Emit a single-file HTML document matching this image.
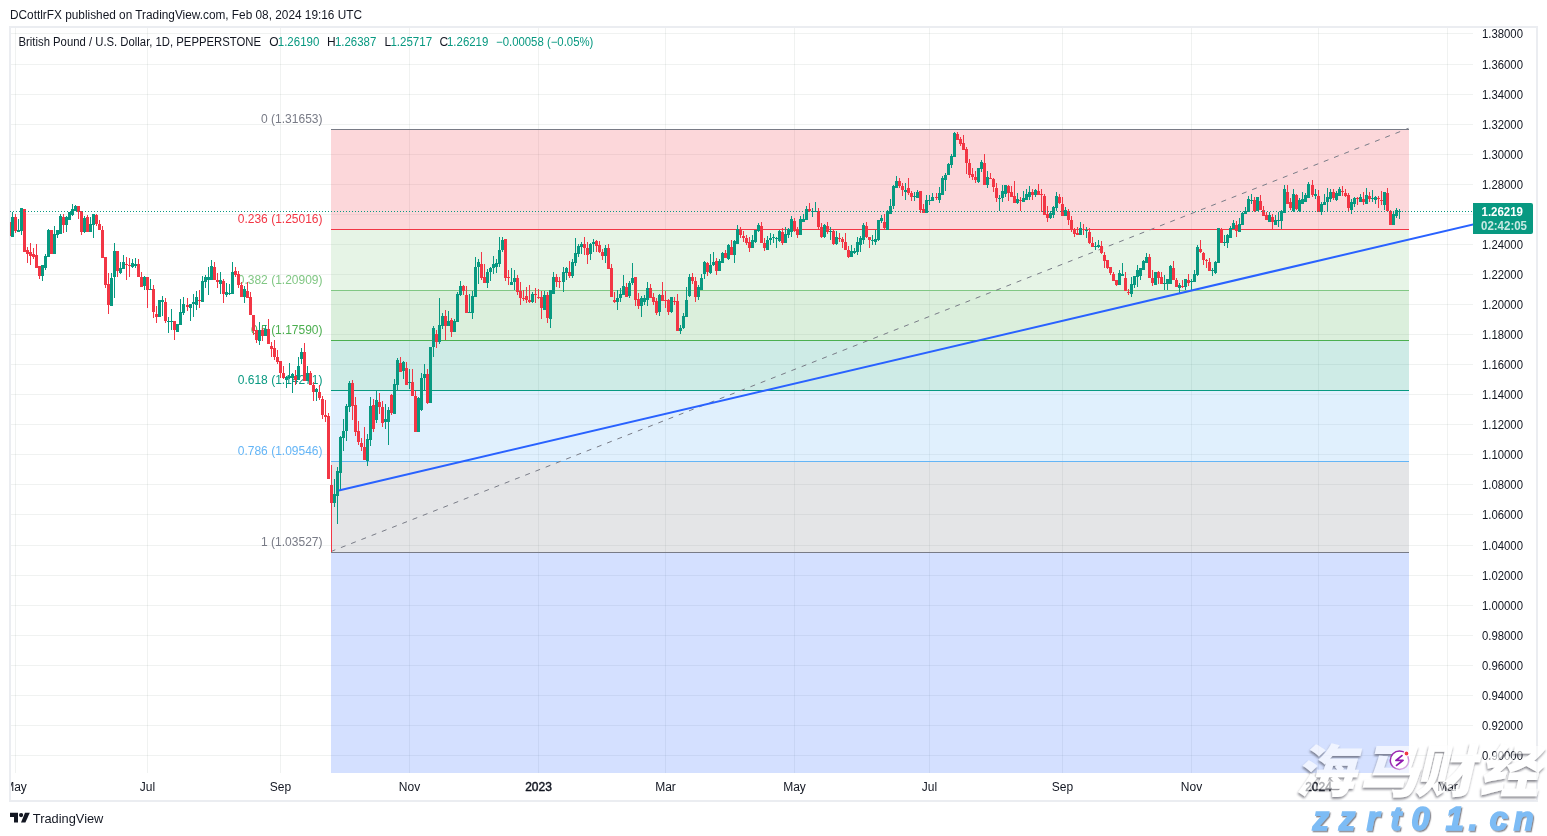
<!DOCTYPE html>
<html><head><meta charset="utf-8"><title>GBPUSD</title>
<style>html,body{margin:0;padding:0;background:#fff;}body{width:1547px;height:836px;position:relative;overflow:hidden;}
</style></head><body>
<svg width="1547" height="836" viewBox="0 0 1547 836" style="position:absolute;left:0;top:0;will-change:transform">
<defs><clipPath id="pane"><rect x="10" y="28" width="1463" height="745"/></clipPath></defs>
<path d="M11,33h1462v1h-1462zM11,64h1462v1h-1462zM11,94h1462v1h-1462zM11,124h1462v1h-1462zM11,154h1462v1h-1462zM11,184h1462v1h-1462zM11,214h1462v1h-1462zM11,244h1462v1h-1462zM11,274h1462v1h-1462zM11,304h1462v1h-1462zM11,334h1462v1h-1462zM11,364h1462v1h-1462zM11,394h1462v1h-1462zM11,424h1462v1h-1462zM11,454h1462v1h-1462zM11,484h1462v1h-1462zM11,514h1462v1h-1462zM11,545h1462v1h-1462zM11,575h1462v1h-1462zM11,605h1462v1h-1462zM11,635h1462v1h-1462zM11,665h1462v1h-1462zM11,695h1462v1h-1462zM11,725h1462v1h-1462zM11,755h1462v1h-1462z" fill="rgba(60,80,70,0.075)" shape-rendering="crispEdges"/>
<path d="M15,28h1v745h-1zM147,28h1v745h-1zM280,28h1v745h-1zM409,28h1v745h-1zM538,28h1v745h-1zM665,28h1v745h-1zM794,28h1v745h-1zM929,28h1v745h-1zM1062,28h1v745h-1zM1191,28h1v745h-1zM1318,28h1v745h-1zM1447,28h1v745h-1z" fill="rgba(60,80,70,0.075)" shape-rendering="crispEdges"/>
<rect x="10" y="27" width="1527" height="774" fill="none" stroke="#ebedf1" stroke-width="2"/>
<g shape-rendering="crispEdges">
<rect x="331" y="130" width="1078" height="99" fill="rgba(242,54,69,0.2)"/>
<rect x="331" y="230" width="1078" height="60" fill="rgba(129,199,132,0.2)"/>
<rect x="331" y="291" width="1078" height="49" fill="rgba(76,175,80,0.2)"/>
<rect x="331" y="341" width="1078" height="49" fill="rgba(8,153,129,0.2)"/>
<rect x="331" y="391" width="1078" height="70" fill="rgba(100,181,246,0.2)"/>
<rect x="331" y="462" width="1078" height="90" fill="rgba(120,123,134,0.2)"/>
<rect x="331" y="553" width="1078" height="220" fill="rgba(41,98,255,0.2)"/>
<rect x="331" y="129" width="1078" height="1" fill="#787b86"/>
<rect x="331" y="229" width="1078" height="1" fill="#f23645"/>
<rect x="331" y="290" width="1078" height="1" fill="#81c784"/>
<rect x="331" y="340" width="1078" height="1" fill="#4caf50"/>
<rect x="331" y="390" width="1078" height="1" fill="#089981"/>
<rect x="331" y="461" width="1078" height="1" fill="#64b5f6"/>
<rect x="331" y="552" width="1078" height="1" fill="#787b86"/>
</g>
<g font-family="Liberation Sans, Arial, sans-serif" font-size="12" text-anchor="end">
<text x="322.5" y="122.5" fill="#787b86">0 (1.31653)</text>
<text x="322.5" y="222.5" fill="#f23645">0.236 (1.25016)</text>
<text x="322.5" y="283.5" fill="#81c784">0.382 (1.20909)</text>
<text x="322.5" y="333.5" fill="#4caf50">0.5 (1.17590)</text>
<text x="322.5" y="383.5" fill="#089981">0.618 (1.14271)</text>
<text x="322.5" y="454.5" fill="#64b5f6">0.786 (1.09546)</text>
<text x="322.5" y="545.5" fill="#787b86">1 (1.03527)</text>
</g>
<line x1="331.5" y1="551.3" x2="1408.5" y2="128.3" stroke="#787b86" stroke-width="1" stroke-dasharray="5 6" stroke-dashoffset="0.9"/>
<g clip-path="url(#pane)" shape-rendering="crispEdges">
<path fill="#089981" d="M12,212h1v25h-1zM18,219h1v13h-1zM21,208h1v27h-1zM42,265h1v16h-1zM45,254h1v16h-1zM48,229h1v28h-1zM54,226h1v28h-1zM57,230h1v8h-1zM60,214h1v20h-1zM66,216h1v16h-1zM69,212h1v8h-1zM72,204h1v12h-1zM75,205h1v6h-1zM84,216h1v17h-1zM90,217h1v15h-1zM93,214h1v24h-1zM111,273h1v33h-1zM114,243h1v55h-1zM120,262h1v12h-1zM123,255h1v14h-1zM132,259h1v9h-1zM135,258h1v10h-1zM144,276h1v14h-1zM150,279h1v11h-1zM159,300h1v17h-1zM162,296h1v20h-1zM168,317h1v16h-1zM171,309h1v21h-1zM177,324h1v8h-1zM180,299h1v26h-1zM183,297h1v18h-1zM190,304h1v17h-1zM193,294h1v23h-1zM196,291h1v19h-1zM202,276h1v26h-1zM205,275h1v13h-1zM208,267h1v28h-1zM211,260h1v20h-1zM220,272h1v22h-1zM226,283h1v14h-1zM229,284h1v11h-1zM232,262h1v32h-1zM244,286h1v17h-1zM259,322h1v23h-1zM265,325h1v11h-1zM286,376h1v12h-1zM289,363h1v16h-1zM292,373h1v20h-1zM298,357h1v23h-1zM301,348h1v16h-1zM307,366h1v15h-1zM316,388h1v13h-1zM334,479h1v28h-1zM337,467h1v57h-1zM340,436h1v54h-1zM343,419h1v32h-1zM346,404h1v37h-1zM349,381h1v31h-1zM367,434h1v32h-1zM370,397h1v49h-1zM376,391h1v32h-1zM385,404h1v25h-1zM388,407h1v38h-1zM394,379h1v35h-1zM397,358h1v32h-1zM403,361h1v18h-1zM409,369h1v20h-1zM418,397h1v35h-1zM421,373h1v38h-1zM424,364h1v26h-1zM430,347h1v56h-1zM433,326h1v31h-1zM439,298h1v46h-1zM442,313h1v16h-1zM448,311h1v15h-1zM454,319h1v13h-1zM457,292h1v30h-1zM460,281h1v15h-1zM469,294h1v19h-1zM472,291h1v28h-1zM475,257h1v40h-1zM478,259h1v25h-1zM487,269h1v19h-1zM490,267h1v14h-1zM493,256h1v18h-1zM496,259h1v14h-1zM499,237h1v30h-1zM502,237h1v15h-1zM511,268h1v17h-1zM514,270h1v20h-1zM532,292h1v11h-1zM544,291h1v19h-1zM550,290h1v38h-1zM553,272h1v22h-1zM563,267h1v25h-1zM566,267h1v13h-1zM572,259h1v19h-1zM575,238h1v28h-1zM578,244h1v13h-1zM581,242h1v12h-1zM590,243h1v17h-1zM593,239h1v13h-1zM605,245h1v18h-1zM617,290h1v20h-1zM620,288h1v14h-1zM623,275h1v20h-1zM629,281h1v17h-1zM632,263h1v22h-1zM641,296h1v21h-1zM644,295h1v10h-1zM647,282h1v24h-1zM659,294h1v22h-1zM671,297h1v16h-1zM680,325h1v9h-1zM683,313h1v16h-1zM686,287h1v30h-1zM689,274h1v23h-1zM698,285h1v15h-1zM701,274h1v16h-1zM704,261h1v18h-1zM710,254h1v20h-1zM713,252h1v14h-1zM719,259h1v12h-1zM722,252h1v11h-1zM728,244h1v16h-1zM734,240h1v23h-1zM737,225h1v19h-1zM752,235h1v13h-1zM755,230h1v13h-1zM758,223h1v9h-1zM767,236h1v14h-1zM770,233h1v12h-1zM773,234h1v9h-1zM776,237h1v11h-1zM779,230h1v12h-1zM785,227h1v16h-1zM788,228h1v10h-1zM791,216h1v21h-1zM800,216h1v19h-1zM803,214h1v8h-1zM806,206h1v14h-1zM812,208h1v9h-1zM815,202h1v10h-1zM824,224h1v14h-1zM830,227h1v13h-1zM836,231h1v14h-1zM851,245h1v12h-1zM854,248h1v6h-1zM857,237h1v18h-1zM860,236h1v16h-1zM863,223h1v21h-1zM872,235h1v10h-1zM875,230h1v15h-1zM878,220h1v21h-1zM881,215h1v8h-1zM887,210h1v20h-1zM890,199h1v15h-1zM893,185h1v24h-1zM896,176h1v12h-1zM905,183h1v17h-1zM914,192h1v9h-1zM917,190h1v8h-1zM926,195h1v18h-1zM929,195h1v10h-1zM932,193h1v8h-1zM939,187h1v16h-1zM942,176h1v19h-1zM945,173h1v18h-1zM948,163h1v12h-1zM951,154h1v14h-1zM954,132h1v25h-1zM978,168h1v15h-1zM981,160h1v12h-1zM987,171h1v17h-1zM999,195h1v16h-1zM1002,185h1v17h-1zM1005,185h1v12h-1zM1017,193h1v11h-1zM1023,191h1v11h-1zM1026,189h1v11h-1zM1029,186h1v14h-1zM1035,189h1v8h-1zM1050,211h1v8h-1zM1053,206h1v12h-1zM1056,192h1v19h-1zM1065,207h1v9h-1zM1080,222h1v13h-1zM1086,227h1v11h-1zM1095,242h1v8h-1zM1098,240h1v8h-1zM1119,270h1v15h-1zM1122,263h1v13h-1zM1131,277h1v20h-1zM1134,276h1v12h-1zM1137,265h1v22h-1zM1140,268h1v12h-1zM1143,260h1v10h-1zM1146,253h1v10h-1zM1155,272h1v13h-1zM1164,275h1v15h-1zM1167,279h1v11h-1zM1170,265h1v19h-1zM1179,283h1v10h-1zM1185,279h1v11h-1zM1191,279h1v11h-1zM1194,270h1v12h-1zM1197,245h1v31h-1zM1212,268h1v8h-1zM1215,261h1v13h-1zM1218,228h1v35h-1zM1224,235h1v11h-1zM1227,234h1v14h-1zM1230,226h1v12h-1zM1233,220h1v9h-1zM1239,218h1v14h-1zM1242,212h1v13h-1zM1245,207h1v7h-1zM1248,196h1v16h-1zM1251,194h1v10h-1zM1257,197h1v14h-1zM1269,212h1v10h-1zM1275,215h1v10h-1zM1278,212h1v15h-1zM1281,210h1v19h-1zM1284,185h1v28h-1zM1293,189h1v23h-1zM1299,198h1v14h-1zM1302,192h1v12h-1zM1305,193h1v9h-1zM1308,182h1v16h-1zM1315,189h1v10h-1zM1321,202h1v13h-1zM1324,194h1v11h-1zM1327,188h1v24h-1zM1330,189h1v13h-1zM1336,191h1v10h-1zM1339,187h1v9h-1zM1351,199h1v15h-1zM1354,197h1v10h-1zM1360,194h1v8h-1zM1366,188h1v16h-1zM1372,190h1v12h-1zM1375,196h1v8h-1zM1384,192h1v18h-1zM1393,211h1v14h-1zM1396,208h1v10h-1zM1399,209h1v10h-1zM11,217h3v20h-3zM17,230h3v2h-3zM20,208h3v23h-3zM41,265h3v11h-3zM44,256h3v12h-3zM47,230h3v27h-3zM53,234h3v20h-3zM56,230h3v5h-3zM59,216h3v18h-3zM65,217h3v8h-3zM68,212h3v8h-3zM71,209h3v6h-3zM74,206h3v5h-3zM83,218h3v14h-3zM89,224h3v8h-3zM92,214h3v11h-3zM110,278h3v28h-3zM113,251h3v26h-3zM119,268h3v5h-3zM122,262h3v7h-3zM131,263h3v4h-3zM134,264h3v2h-3zM143,277h3v9h-3zM149,289h3v1h-3zM158,300h3v17h-3zM161,300h3v2h-3zM167,321h3v1h-3zM170,321h3v1h-3zM176,324h3v8h-3zM179,312h3v13h-3zM182,304h3v9h-3zM189,304h3v4h-3zM192,302h3v2h-3zM195,297h3v8h-3zM201,281h3v21h-3zM204,277h3v5h-3zM207,277h3v3h-3zM210,266h3v14h-3zM219,280h3v4h-3zM225,292h3v3h-3zM228,293h3v1h-3zM231,272h3v22h-3zM243,289h3v8h-3zM258,330h3v11h-3zM264,329h3v7h-3zM285,377h3v3h-3zM288,376h3v2h-3zM291,374h3v4h-3zM297,366h3v14h-3zM300,352h3v7h-3zM306,373h3v8h-3zM315,389h3v3h-3zM333,494h3v9h-3zM336,471h3v25h-3zM339,437h3v36h-3zM342,431h3v7h-3zM345,406h3v25h-3zM348,383h3v24h-3zM366,439h3v22h-3zM369,406h3v34h-3zM375,400h3v20h-3zM384,419h3v3h-3zM387,410h3v12h-3zM393,384h3v30h-3zM396,360h3v25h-3zM402,362h3v9h-3zM408,382h3v1h-3zM417,398h3v34h-3zM420,378h3v32h-3zM423,374h3v4h-3zM429,347h3v56h-3zM432,328h3v19h-3zM438,325h3v17h-3zM441,316h3v10h-3zM447,321h3v5h-3zM453,321h3v11h-3zM456,294h3v28h-3zM459,286h3v9h-3zM468,312h3v1h-3zM471,296h3v17h-3zM474,267h3v30h-3zM477,262h3v5h-3zM486,272h3v11h-3zM489,268h3v4h-3zM492,264h3v4h-3zM495,263h3v4h-3zM498,250h3v14h-3zM501,240h3v10h-3zM510,282h3v3h-3zM513,278h3v4h-3zM531,294h3v8h-3zM543,295h3v15h-3zM549,290h3v29h-3zM552,277h3v17h-3zM562,272h3v10h-3zM565,268h3v5h-3zM571,262h3v14h-3zM574,253h3v10h-3zM577,246h3v8h-3zM580,244h3v3h-3zM589,244h3v10h-3zM592,242h3v2h-3zM604,248h3v8h-3zM616,298h3v4h-3zM619,294h3v4h-3zM622,286h3v9h-3zM628,283h3v13h-3zM631,278h3v5h-3zM640,298h3v8h-3zM643,298h3v4h-3zM646,288h3v12h-3zM658,295h3v17h-3zM670,297h3v15h-3zM679,328h3v3h-3zM682,316h3v12h-3zM685,300h3v17h-3zM688,277h3v19h-3zM697,287h3v10h-3zM700,278h3v12h-3zM703,262h3v12h-3zM709,265h3v8h-3zM712,262h3v3h-3zM718,261h3v10h-3zM721,253h3v10h-3zM727,245h3v14h-3zM733,241h3v14h-3zM736,229h3v15h-3zM751,240h3v8h-3zM754,230h3v12h-3zM757,225h3v6h-3zM766,240h3v10h-3zM769,238h3v2h-3zM772,237h3v1h-3zM775,238h3v1h-3zM778,231h3v10h-3zM784,234h3v9h-3zM787,229h3v6h-3zM790,219h3v13h-3zM799,219h3v16h-3zM802,219h3v3h-3zM805,209h3v11h-3zM811,211h3v1h-3zM814,211h3v1h-3zM823,225h3v12h-3zM829,231h3v1h-3zM835,237h3v7h-3zM850,251h3v6h-3zM853,251h3v2h-3zM856,242h3v10h-3zM859,238h3v7h-3zM862,225h3v15h-3zM871,240h3v1h-3zM874,239h3v3h-3zM877,220h3v20h-3zM880,218h3v3h-3zM886,211h3v19h-3zM889,206h3v8h-3zM892,186h3v20h-3zM895,181h3v7h-3zM904,190h3v2h-3zM913,196h3v1h-3zM916,192h3v6h-3zM925,200h3v13h-3zM928,200h3v1h-3zM931,197h3v4h-3zM938,193h3v7h-3zM941,178h3v17h-3zM944,175h3v5h-3zM947,164h3v11h-3zM950,156h3v9h-3zM953,133h3v24h-3zM977,168h3v14h-3zM980,162h3v7h-3zM986,177h3v8h-3zM998,198h3v1h-3zM1001,191h3v7h-3zM1004,185h3v9h-3zM1016,199h3v4h-3zM1022,198h3v4h-3zM1025,194h3v6h-3zM1028,192h3v5h-3zM1034,190h3v5h-3zM1049,213h3v5h-3zM1052,207h3v8h-3zM1055,196h3v12h-3zM1064,210h3v6h-3zM1079,228h3v7h-3zM1085,230h3v1h-3zM1094,246h3v1h-3zM1097,245h3v2h-3zM1118,273h3v12h-3zM1121,274h3v2h-3zM1130,284h3v10h-3zM1133,276h3v9h-3zM1136,270h3v7h-3zM1139,268h3v8h-3zM1142,261h3v9h-3zM1145,257h3v6h-3zM1154,272h3v13h-3zM1163,283h3v1h-3zM1166,279h3v5h-3zM1169,266h3v18h-3zM1178,285h3v3h-3zM1184,279h3v8h-3zM1190,281h3v1h-3zM1193,274h3v8h-3zM1196,247h3v28h-3zM1211,270h3v1h-3zM1214,262h3v11h-3zM1217,228h3v35h-3zM1223,242h3v1h-3zM1226,235h3v8h-3zM1229,228h3v10h-3zM1232,223h3v6h-3zM1238,224h3v8h-3zM1241,213h3v12h-3zM1244,211h3v3h-3zM1247,199h3v13h-3zM1250,200h3v1h-3zM1256,197h3v14h-3zM1268,215h3v7h-3zM1274,220h3v5h-3zM1277,220h3v1h-3zM1280,211h3v10h-3zM1283,189h3v24h-3zM1292,194h3v17h-3zM1298,200h3v11h-3zM1301,199h3v5h-3zM1304,195h3v7h-3zM1307,184h3v14h-3zM1314,194h3v2h-3zM1320,204h3v8h-3zM1323,202h3v3h-3zM1326,197h3v5h-3zM1329,192h3v7h-3zM1335,193h3v7h-3zM1338,189h3v7h-3zM1350,202h3v8h-3zM1353,198h3v6h-3zM1359,197h3v5h-3zM1365,195h3v9h-3zM1371,198h3v1h-3zM1374,197h3v3h-3zM1383,192h3v13h-3zM1392,214h3v11h-3zM1395,210h3v6h-3zM1398,211h3v1h-3z"/>
<path fill="#f23645" d="M9,222h1v14h-1zM15,214h1v19h-1zM24,209h1v43h-1zM27,247h1v16h-1zM30,243h1v22h-1zM33,248h1v11h-1zM36,244h1v24h-1zM39,266h1v13h-1zM51,230h1v24h-1zM63,214h1v19h-1zM78,206h1v13h-1zM81,211h1v24h-1zM87,215h1v17h-1zM96,214h1v12h-1zM99,220h1v10h-1zM102,226h1v32h-1zM105,257h1v31h-1zM108,273h1v41h-1zM117,251h1v26h-1zM126,257h1v23h-1zM129,258h1v19h-1zM138,259h1v18h-1zM141,272h1v15h-1zM147,277h1v31h-1zM153,285h1v33h-1zM156,306h1v17h-1zM165,298h1v25h-1zM174,321h1v19h-1zM187,298h1v13h-1zM199,290h1v18h-1zM214,262h1v18h-1zM217,273h1v15h-1zM223,279h1v24h-1zM235,267h1v10h-1zM238,271h1v17h-1zM241,282h1v15h-1zM247,282h1v16h-1zM250,292h1v23h-1zM253,315h1v20h-1zM256,330h1v13h-1zM262,328h1v13h-1zM268,319h1v25h-1zM271,342h1v15h-1zM274,340h1v20h-1zM277,350h1v14h-1zM280,361h1v17h-1zM283,366h1v13h-1zM295,370h1v15h-1zM304,343h1v38h-1zM310,371h1v14h-1zM313,382h1v19h-1zM319,385h1v15h-1zM322,396h1v23h-1zM325,400h1v22h-1zM328,413h1v66h-1zM331,465h1v87h-1zM352,380h1v40h-1zM355,397h1v39h-1zM358,421h1v24h-1zM361,438h1v13h-1zM364,427h1v33h-1zM373,399h1v33h-1zM379,393h1v21h-1zM382,401h1v26h-1zM391,394h1v21h-1zM400,357h1v15h-1zM406,362h1v23h-1zM412,369h1v27h-1zM415,391h1v41h-1zM427,369h1v35h-1zM436,330h1v18h-1zM445,310h1v30h-1zM451,318h1v19h-1zM463,285h1v10h-1zM466,286h1v27h-1zM481,252h1v28h-1zM484,264h1v19h-1zM505,239h1v42h-1zM508,270h1v15h-1zM517,275h1v20h-1zM520,282h1v23h-1zM523,290h1v11h-1zM526,287h1v16h-1zM529,285h1v18h-1zM535,288h1v15h-1zM538,289h1v10h-1zM541,291h1v28h-1zM547,292h1v31h-1zM556,274h1v13h-1zM559,277h1v11h-1zM569,261h1v17h-1zM584,237h1v18h-1zM587,242h1v22h-1zM596,240h1v12h-1zM599,241h1v12h-1zM602,249h1v11h-1zM608,244h1v25h-1zM611,264h1v33h-1zM614,292h1v11h-1zM626,283h1v14h-1zM635,277h1v29h-1zM638,293h1v16h-1zM650,284h1v14h-1zM653,293h1v12h-1zM656,298h1v17h-1zM662,282h1v19h-1zM665,291h1v17h-1zM668,299h1v16h-1zM674,297h1v8h-1zM677,294h1v37h-1zM692,273h1v11h-1zM695,277h1v25h-1zM707,262h1v14h-1zM716,258h1v17h-1zM725,250h1v8h-1zM731,240h1v15h-1zM740,227h1v11h-1zM743,231h1v11h-1zM746,235h1v10h-1zM749,237h1v15h-1zM761,222h1v21h-1zM764,238h1v13h-1zM782,228h1v17h-1zM794,218h1v14h-1zM797,227h1v11h-1zM809,203h1v9h-1zM818,208h1v21h-1zM821,223h1v15h-1zM827,222h1v12h-1zM833,230h1v15h-1zM839,233h1v9h-1zM842,237h1v11h-1zM845,233h1v17h-1zM848,246h1v12h-1zM866,222h1v16h-1zM869,237h1v11h-1zM884,214h1v16h-1zM899,178h1v10h-1zM902,183h1v13h-1zM908,178h1v17h-1zM911,191h1v10h-1zM920,191h1v22h-1zM923,204h1v9h-1zM936,193h1v7h-1zM957,132h1v8h-1zM960,137h1v9h-1zM963,135h1v15h-1zM966,147h1v27h-1zM969,159h1v19h-1zM972,168h1v12h-1zM975,171h1v12h-1zM984,154h1v31h-1zM990,173h1v6h-1zM993,178h1v14h-1zM996,183h1v19h-1zM1008,185h1v16h-1zM1011,186h1v11h-1zM1014,181h1v22h-1zM1020,197h1v14h-1zM1032,189h1v11h-1zM1038,184h1v11h-1zM1041,189h1v23h-1zM1044,194h1v21h-1zM1047,206h1v16h-1zM1059,194h1v10h-1zM1062,197h1v19h-1zM1068,209h1v16h-1zM1071,216h1v16h-1zM1074,228h1v9h-1zM1077,227h1v8h-1zM1083,224h1v11h-1zM1089,228h1v16h-1zM1092,237h1v10h-1zM1101,241h1v13h-1zM1104,252h1v16h-1zM1107,260h1v9h-1zM1110,267h1v8h-1zM1113,272h1v9h-1zM1116,280h1v6h-1zM1125,272h1v19h-1zM1128,289h1v6h-1zM1149,254h1v24h-1zM1152,270h1v16h-1zM1158,271h1v13h-1zM1161,272h1v12h-1zM1173,261h1v19h-1zM1176,278h1v9h-1zM1182,280h1v8h-1zM1188,274h1v12h-1zM1200,240h1v13h-1zM1203,252h1v13h-1zM1206,259h1v9h-1zM1209,258h1v13h-1zM1221,228h1v15h-1zM1236,221h1v16h-1zM1254,197h1v15h-1zM1260,195h1v15h-1zM1263,206h1v10h-1zM1266,212h1v8h-1zM1272,214h1v15h-1zM1287,185h1v19h-1zM1290,198h1v12h-1zM1296,194h1v16h-1zM1312,180h1v17h-1zM1318,190h1v22h-1zM1333,189h1v11h-1zM1342,186h1v10h-1zM1345,189h1v8h-1zM1348,193h1v18h-1zM1357,197h1v8h-1zM1363,192h1v13h-1zM1369,192h1v10h-1zM1378,196h1v12h-1zM1381,191h1v14h-1zM1387,188h1v23h-1zM1390,210h1v15h-1zM8,222h3v14h-3zM14,217h3v14h-3zM23,209h3v43h-3zM26,250h3v4h-3zM29,252h3v4h-3zM32,254h3v3h-3zM35,255h3v13h-3zM38,266h3v10h-3zM50,230h3v24h-3zM62,217h3v8h-3zM77,206h3v6h-3zM80,211h3v21h-3zM86,217h3v15h-3zM95,215h3v9h-3zM98,224h3v6h-3zM101,230h3v28h-3zM104,257h3v28h-3zM107,284h3v21h-3zM116,251h3v20h-3zM125,264h3v1h-3zM128,265h3v1h-3zM137,264h3v13h-3zM140,277h3v10h-3zM146,277h3v13h-3zM152,289h3v23h-3zM155,314h3v3h-3zM164,302h3v19h-3zM173,321h3v9h-3zM186,305h3v2h-3zM198,300h3v1h-3zM213,267h3v13h-3zM216,280h3v2h-3zM222,281h3v13h-3zM234,271h3v4h-3zM237,274h3v11h-3zM240,285h3v12h-3zM246,291h3v7h-3zM249,297h3v18h-3zM252,315h3v16h-3zM255,330h3v10h-3zM261,330h3v6h-3zM267,329h3v15h-3zM270,346h3v3h-3zM273,348h3v9h-3zM276,357h3v5h-3zM279,361h3v12h-3zM282,373h3v5h-3zM294,376h3v4h-3zM303,352h3v29h-3zM309,373h3v12h-3zM312,385h3v7h-3zM318,392h3v6h-3zM321,399h3v16h-3zM324,415h3v2h-3zM327,416h3v63h-3zM330,485h3v18h-3zM351,383h3v23h-3zM354,405h3v27h-3zM357,431h3v11h-3zM360,443h3v4h-3zM363,447h3v13h-3zM372,405h3v24h-3zM378,402h3v5h-3zM381,407h3v16h-3zM390,395h3v18h-3zM399,363h3v9h-3zM405,368h3v17h-3zM411,382h3v14h-3zM414,396h3v36h-3zM426,374h3v29h-3zM435,334h3v8h-3zM444,316h3v10h-3zM450,320h3v12h-3zM462,286h3v5h-3zM465,295h3v18h-3zM480,264h3v14h-3zM483,277h3v6h-3zM504,239h3v39h-3zM507,277h3v1h-3zM516,278h3v14h-3zM519,291h3v7h-3zM522,298h3v1h-3zM525,296h3v4h-3zM528,300h3v2h-3zM534,294h3v1h-3zM537,297h3v1h-3zM540,297h3v11h-3zM546,295h3v23h-3zM555,277h3v5h-3zM558,281h3v1h-3zM568,272h3v4h-3zM583,244h3v4h-3zM586,248h3v7h-3zM595,241h3v5h-3zM598,245h3v7h-3zM601,252h3v4h-3zM607,248h3v21h-3zM610,268h3v29h-3zM613,300h3v2h-3zM625,287h3v10h-3zM634,277h3v23h-3zM637,299h3v7h-3zM649,288h3v10h-3zM652,297h3v5h-3zM655,301h3v12h-3zM661,295h3v6h-3zM664,300h3v1h-3zM667,300h3v12h-3zM673,301h3v1h-3zM676,301h3v30h-3zM691,277h3v4h-3zM694,281h3v16h-3zM706,263h3v9h-3zM715,261h3v10h-3zM724,253h3v5h-3zM730,247h3v8h-3zM739,229h3v6h-3zM742,236h3v2h-3zM745,238h3v5h-3zM748,242h3v6h-3zM760,226h3v17h-3zM763,243h3v5h-3zM781,232h3v11h-3zM793,221h3v10h-3zM796,230h3v5h-3zM808,209h3v2h-3zM817,211h3v16h-3zM820,227h3v10h-3zM826,226h3v6h-3zM832,231h3v13h-3zM838,238h3v1h-3zM841,239h3v3h-3zM844,242h3v8h-3zM847,250h3v7h-3zM865,226h3v11h-3zM868,237h3v3h-3zM883,222h3v6h-3zM898,181h3v5h-3zM901,186h3v4h-3zM907,188h3v5h-3zM910,193h3v4h-3zM919,191h3v19h-3zM922,209h3v4h-3zM935,197h3v1h-3zM956,134h3v6h-3zM959,139h3v5h-3zM962,143h3v7h-3zM965,149h3v14h-3zM968,163h3v12h-3zM971,174h3v3h-3zM974,177h3v3h-3zM983,163h3v22h-3zM989,178h3v1h-3zM992,179h3v8h-3zM995,188h3v10h-3zM1007,186h3v7h-3zM1010,192h3v5h-3zM1013,196h3v7h-3zM1019,200h3v1h-3zM1031,192h3v3h-3zM1037,191h3v4h-3zM1040,194h3v1h-3zM1043,196h3v19h-3zM1046,214h3v4h-3zM1058,197h3v6h-3zM1061,204h3v12h-3zM1067,211h3v9h-3zM1070,220h3v10h-3zM1073,230h3v4h-3zM1076,233h3v2h-3zM1082,229h3v1h-3zM1088,232h3v11h-3zM1091,243h3v4h-3zM1100,246h3v7h-3zM1103,255h3v6h-3zM1106,260h3v8h-3zM1109,267h3v6h-3zM1112,274h3v7h-3zM1115,280h3v5h-3zM1124,278h3v13h-3zM1127,292h3v1h-3zM1148,257h3v21h-3zM1151,278h3v5h-3zM1157,272h3v6h-3zM1160,277h3v7h-3zM1172,268h3v12h-3zM1175,280h3v7h-3zM1181,286h3v1h-3zM1187,280h3v3h-3zM1199,249h3v3h-3zM1202,253h3v7h-3zM1205,260h3v1h-3zM1208,262h3v9h-3zM1220,230h3v13h-3zM1235,225h3v6h-3zM1253,200h3v11h-3zM1259,201h3v9h-3zM1262,210h3v6h-3zM1265,215h3v5h-3zM1271,217h3v5h-3zM1286,192h3v12h-3zM1289,202h3v6h-3zM1295,195h3v14h-3zM1311,185h3v10h-3zM1317,196h3v16h-3zM1332,192h3v6h-3zM1341,191h3v1h-3zM1344,193h3v3h-3zM1347,195h3v13h-3zM1356,198h3v1h-3zM1362,199h3v3h-3zM1368,196h3v3h-3zM1377,198h3v1h-3zM1380,200h3v1h-3zM1386,193h3v18h-3zM1389,211h3v14h-3z"/>
</g>
<line x1="10" y1="211.5" x2="1473" y2="211.5" stroke="#089981" stroke-width="1" stroke-dasharray="1 2" shape-rendering="crispEdges"/>
<g clip-path="url(#pane)"><line x1="338.7" y1="490.5" x2="1478" y2="223.33" stroke="#2962ff" stroke-width="2"/></g>
<g font-family="Liberation Sans, Arial, sans-serif" font-size="12" fill="#131722">
<text x="1482" y="37.8" textLength="41" lengthAdjust="spacingAndGlyphs">1.38000</text>
<text x="1482" y="68.8" textLength="41" lengthAdjust="spacingAndGlyphs">1.36000</text>
<text x="1482" y="98.8" textLength="41" lengthAdjust="spacingAndGlyphs">1.34000</text>
<text x="1482" y="128.8" textLength="41" lengthAdjust="spacingAndGlyphs">1.32000</text>
<text x="1482" y="158.8" textLength="41" lengthAdjust="spacingAndGlyphs">1.30000</text>
<text x="1482" y="188.8" textLength="41" lengthAdjust="spacingAndGlyphs">1.28000</text>
<text x="1482" y="248.8" textLength="41" lengthAdjust="spacingAndGlyphs">1.24000</text>
<text x="1482" y="278.8" textLength="41" lengthAdjust="spacingAndGlyphs">1.22000</text>
<text x="1482" y="308.8" textLength="41" lengthAdjust="spacingAndGlyphs">1.20000</text>
<text x="1482" y="338.8" textLength="41" lengthAdjust="spacingAndGlyphs">1.18000</text>
<text x="1482" y="368.8" textLength="41" lengthAdjust="spacingAndGlyphs">1.16000</text>
<text x="1482" y="398.8" textLength="41" lengthAdjust="spacingAndGlyphs">1.14000</text>
<text x="1482" y="428.8" textLength="41" lengthAdjust="spacingAndGlyphs">1.12000</text>
<text x="1482" y="458.8" textLength="41" lengthAdjust="spacingAndGlyphs">1.10000</text>
<text x="1482" y="488.8" textLength="41" lengthAdjust="spacingAndGlyphs">1.08000</text>
<text x="1482" y="518.8" textLength="41" lengthAdjust="spacingAndGlyphs">1.06000</text>
<text x="1482" y="549.8" textLength="41" lengthAdjust="spacingAndGlyphs">1.04000</text>
<text x="1482" y="579.8" textLength="41" lengthAdjust="spacingAndGlyphs">1.02000</text>
<text x="1482" y="609.8" textLength="41" lengthAdjust="spacingAndGlyphs">1.00000</text>
<text x="1482" y="639.8" textLength="41" lengthAdjust="spacingAndGlyphs">0.98000</text>
<text x="1482" y="669.8" textLength="41" lengthAdjust="spacingAndGlyphs">0.96000</text>
<text x="1482" y="699.8" textLength="41" lengthAdjust="spacingAndGlyphs">0.94000</text>
<text x="1482" y="729.8" textLength="41" lengthAdjust="spacingAndGlyphs">0.92000</text>
<text x="1482" y="759.8" textLength="41" lengthAdjust="spacingAndGlyphs">0.90000</text>
</g>
<path d="M1473,203h58a2,2 0 0 1 2,2v27a2,2 0 0 1 -2,2h-58z" fill="#089981"/>
<text x="1481.5" y="215.8" font-family="Liberation Sans, Arial, sans-serif" font-size="12" font-weight="bold" fill="#ffffff" textLength="41.5" lengthAdjust="spacingAndGlyphs">1.26219</text>
<text x="1481" y="230" font-family="Liberation Sans, Arial, sans-serif" font-size="12" font-weight="bold" fill="#c8e9e3" textLength="46" lengthAdjust="spacingAndGlyphs">02:42:05</text>
<defs><clipPath id="tax"><rect x="11" y="773" width="1462" height="27"/></clipPath></defs>
<g clip-path="url(#tax)" font-family="Liberation Sans, Arial, sans-serif" font-size="12" fill="#131722" text-anchor="middle">
<text x="15.5" y="791">May</text>
<text x="147.5" y="791">Jul</text>
<text x="280.5" y="791">Sep</text>
<text x="409.5" y="791">Nov</text>
<text x="538.5" y="791" stroke="#131722" stroke-width="0.45">2023</text>
<text x="665.5" y="791">Mar</text>
<text x="794.5" y="791">May</text>
<text x="929.5" y="791">Jul</text>
<text x="1062.5" y="791">Sep</text>
<text x="1191.5" y="791">Nov</text>
<text x="1318.5" y="791" stroke="#131722" stroke-width="0.45">2024</text>
<text x="1447.5" y="791">Mar</text>
</g>
<text x="10" y="19" font-family="Liberation Sans, Arial, sans-serif" font-size="12" fill="#131722" textLength="352" lengthAdjust="spacingAndGlyphs">DCottlrFX published on TradingView.com, Feb 08, 2024 19:16 UTC</text>
<g font-family="Liberation Sans, Arial, sans-serif" font-size="12">
<text x="18.5" y="45.8" fill="#131722" textLength="242.5" lengthAdjust="spacingAndGlyphs">British Pound / U.S. Dollar, 1D, PEPPERSTONE</text>
<text x="269.2" y="45.8" fill="#131722">O</text>
<text x="277.8" y="45.8" fill="#089981" textLength="41.5" lengthAdjust="spacingAndGlyphs">1.26190</text>
<text x="327" y="45.8" fill="#131722">H</text>
<text x="334.9" y="45.8" fill="#089981" textLength="41.4" lengthAdjust="spacingAndGlyphs">1.26387</text>
<text x="384.6" y="45.8" fill="#131722">L</text>
<text x="390.4" y="45.8" fill="#089981" textLength="41.7" lengthAdjust="spacingAndGlyphs">1.25717</text>
<text x="439.6" y="45.8" fill="#131722">C</text>
<text x="447" y="45.8" fill="#089981" textLength="41.3" lengthAdjust="spacingAndGlyphs">1.26219</text>
<text x="496" y="45.8" fill="#089981" textLength="97.4" lengthAdjust="spacingAndGlyphs">−0.00058 (−0.05%)</text>
</g>
<g fill="#131722"><path d="M10,812.8H18V822.6H14V817H10Z"/><circle cx="21.1" cy="815.1" r="2.1"/><path d="M25,812.8H29.8L25.4,822.6H21Z"/></g>
<text x="32.8" y="822.7" font-family="Liberation Sans, Arial, sans-serif" font-size="12.6" fill="#131722" textLength="70.6" lengthAdjust="spacingAndGlyphs">TradingView</text>
<defs><filter id="wsh" x="-10%" y="-10%" width="130%" height="140%"><feDropShadow dx="-0.6" dy="2" stdDeviation="0.8" flood-color="#4a4a54" flood-opacity="1"/></filter><filter id="wsh2" x="-10%" y="-10%" width="130%" height="140%"><feDropShadow dx="1.2" dy="1.4" stdDeviation="0.5" flood-color="#3c3c46" flood-opacity="0.6"/></filter></defs>
<g opacity="0.64" filter="url(#wsh)"><text y="792" font-family="Noto Sans CJK SC, WenQuanYi Zen Hei, sans-serif" font-weight="900" font-size="57" fill="#ffffff" transform="matrix(1.06,0,-0.2309,1,0,0)"><tspan x="1394.0">海</tspan><tspan x="1454.4">马</tspan><tspan x="1507.3">财</tspan><tspan x="1567.7">经</tspan></text></g>
<defs><linearGradient id="icg" x1="0" y1="0" x2="1" y2="1"><stop offset="0.35" stop-color="#9c27b0"/><stop offset="0.8" stop-color="#d7a6e4"/></linearGradient></defs>
<circle cx="1399.5" cy="760.3" r="9.2" fill="#ffffff" stroke="url(#icg)" stroke-width="1.5"/>
<path d="M1401.9,755.6L1396,760.4H1403L1396.6,765.4" fill="none" stroke="#9018b0" stroke-width="1.8" stroke-linejoin="round" stroke-linecap="round"/>
<circle cx="1406.5" cy="753.5" r="2.5" fill="#f23645" stroke="#ffffff" stroke-width="1.2"/>
<g filter="url(#wsh2)"><text y="829.6" font-family="Liberation Sans, sans-serif" font-weight="bold" font-style="italic" font-size="33" fill="#7dbcf5" stroke="#7dbcf5" stroke-width="1.4"><tspan x="1312.5">z</tspan><tspan x="1338.8">z</tspan><tspan x="1366.5">r</tspan><tspan x="1390.3">t</tspan><tspan x="1411.3">0</tspan><tspan x="1445.5">1</tspan><tspan x="1468.5">.</tspan><tspan x="1489.5">c</tspan><tspan x="1513.5">n</tspan></text></g>
</svg>
</body></html>
